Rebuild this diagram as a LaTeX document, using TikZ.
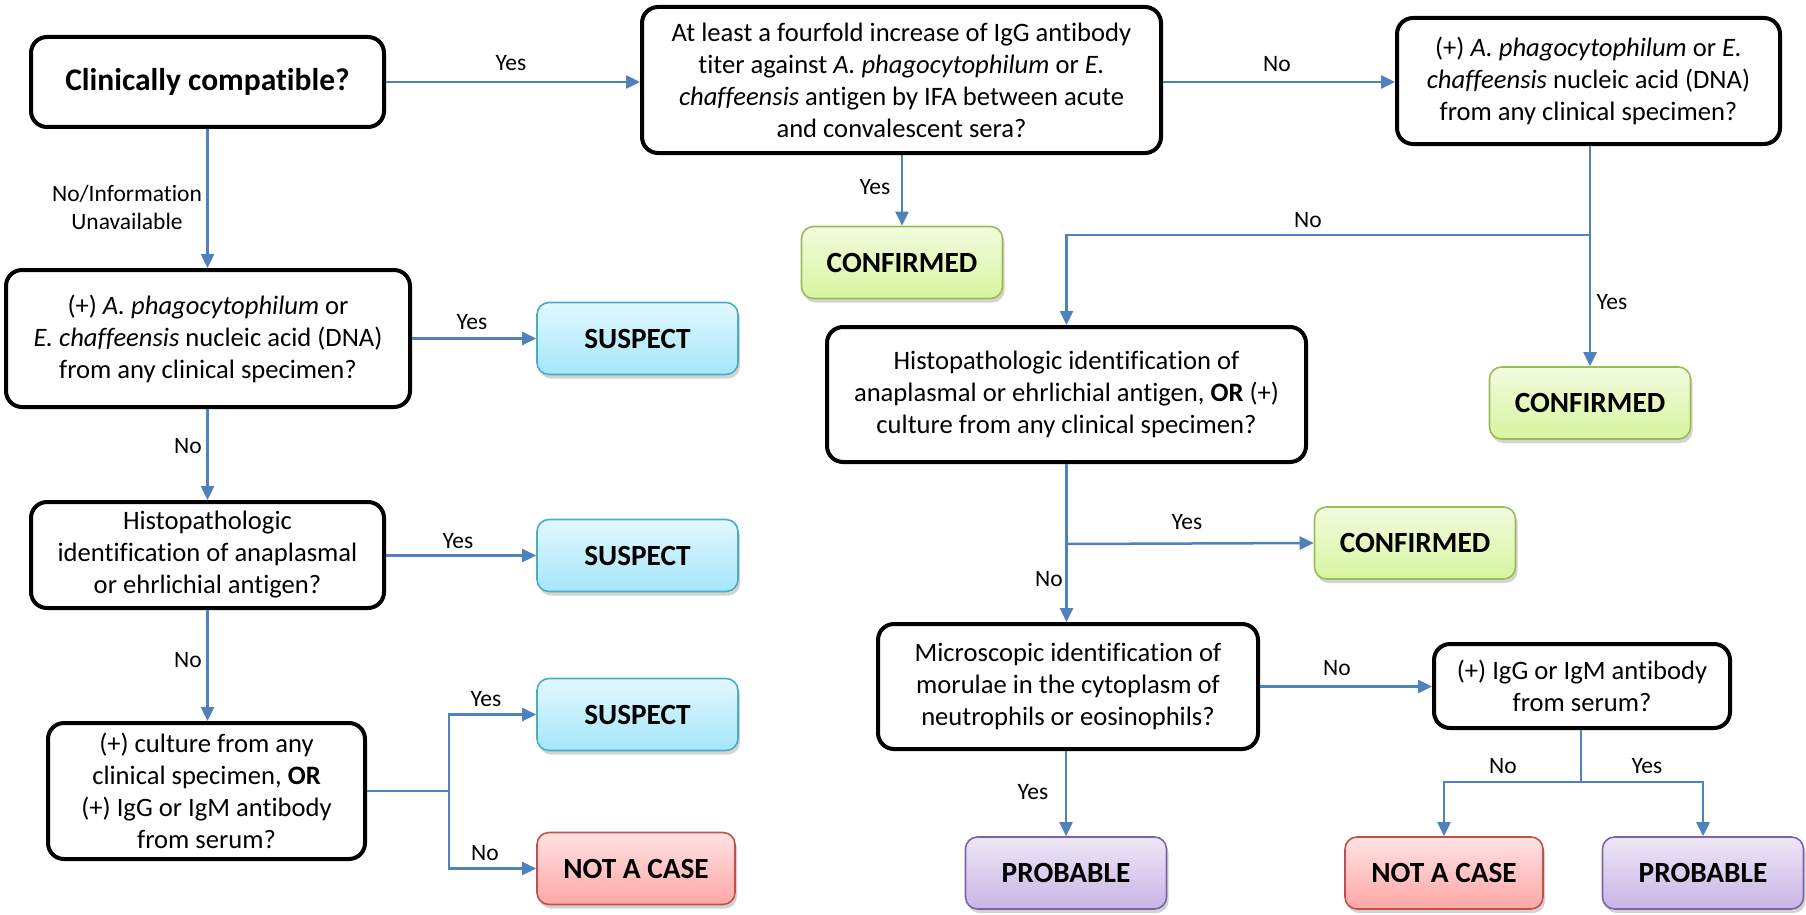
\documentclass[tikz,border=0pt]{standalone}
\usepackage{fontspec}
\setmainfont[Ligatures=NoCommon]{Carlito}
\usetikzlibrary{shadows,arrows.meta}
\definecolor{linkblue}{HTML}{4F81BD}
\definecolor{gtop}{HTML}{F2FBDF}\definecolor{gbot}{HTML}{D6F59E}\definecolor{gbrd}{HTML}{9BBB59}
\definecolor{btop}{HTML}{E2F8FF}\definecolor{bbot}{HTML}{A4E6F9}\definecolor{bbrd}{HTML}{4BACC6}
\definecolor{rtop}{HTML}{FFE3E3}\definecolor{rbot}{HTML}{FFA6A6}\definecolor{rbrd}{HTML}{C0504D}
\definecolor{ptop}{HTML}{EEE7F6}\definecolor{pbot}{HTML}{C8B4E6}\definecolor{pbrd}{HTML}{8064A2}
\begin{document}
\begin{tikzpicture}[x=1pt,y=-1pt,
  dec/.style={draw=black, line width=4pt, rounded corners=16pt, fill=white, align=center,
    font=\fontsize{26.6}{32}\selectfont, inner sep=0pt},
  term/.style={rounded corners=12pt, line width=1.6pt, minimum width=201pt, minimum height=72pt,
    font=\fontsize{29.3}{32}\selectfont\bfseries, inner sep=0pt,
    drop shadow={shadow xshift=2pt, shadow yshift=-4pt, opacity=0.35, fill=gray}},
  conf/.style={term, draw=gbrd, top color=gtop, bottom color=gbot},
  susp/.style={term, draw=bbrd, top color=btop, bottom color=bbot},
  nac/.style={term, draw=rbrd, top color=rtop, bottom color=rbot},
  prob/.style={term, draw=pbrd, top color=ptop, bottom color=pbot},
  arr/.style={draw=linkblue, line width=2.5pt, -{Triangle[length=14pt,width=13pt]}},
  ln/.style={draw=linkblue, line width=2.5pt},
  lab/.style={font=\fontsize{23.5}{28}\selectfont, inner sep=1pt, align=center}]
\useasboundingbox (0,0) rectangle (1806,915);

\node[dec, minimum width=353pt, minimum height=90pt, font=\fontsize{31.5}{32}\selectfont\bfseries] (A) at (207.5,82) {Clinically compatible?};
\node[dec, minimum width=519pt, minimum height=146pt] (B) at (901.5,80) {At least a fourfold increase of IgG antibody\\ titer against \textit{A. phagocytophilum} or \textit{E.}\\ \textit{chaffeensis} antigen by IFA between acute\\ and convalescent sera?};
\node[dec, minimum width=383pt, minimum height=126pt] (C) at (1588.5,81) {(+) \textit{A. phagocytophilum} or \textit{E.}\\ \textit{chaffeensis} nucleic acid (DNA)\\ from any clinical specimen?};
\node[conf] (conf1) at (902,262.5) {CONFIRMED};
\node[dec, minimum width=404pt, minimum height=137pt] (D) at (208,338.5) {(+) \textit{A. phagocytophilum} or\\ \textit{E. chaffeensis} nucleic acid (DNA)\\ from any clinical specimen?};
\node[susp] (susp1) at (637.5,338.5) {SUSPECT};
\node[dec, minimum width=479pt, minimum height=135pt] (E) at (1066.5,394.5) {Histopathologic identification of\\ anaplasmal or ehrlichial antigen, \textbf{OR} (+)\\ culture from any clinical specimen?};
\node[conf] (conf2) at (1590,403) {CONFIRMED};
\node[dec, minimum width=353pt, minimum height=106pt] (F) at (207.5,555) {Histopathologic\\ identification of anaplasmal\\ or ehrlichial antigen?};
\node[susp] (susp2) at (637.5,555.5) {SUSPECT};
\node[conf] (conf3) at (1415,543) {CONFIRMED};
\node[dec, minimum width=380pt, minimum height=125pt] (G) at (1068,686.5) {Microscopic identification of\\ morulae in the cytoplasm of\\ neutrophils or eosinophils?};
\node[dec, minimum width=296pt, minimum height=84pt] (H) at (1582,686) {(+) IgG or IgM antibody\\ from serum?};
\node[dec, minimum width=317pt, minimum height=136pt] (I) at (206.5,791) {(+) culture from any\\ clinical specimen, \textbf{OR}\\ (+) IgG or IgM antibody\\ from serum?};
\node[susp] (susp3) at (637.5,714.5) {SUSPECT};
\node[nac, minimum width=198pt] (nac1) at (636,868.5) {NOT A CASE};
\node[prob] (prob1) at (1066,873) {PROBABLE};
\node[nac, minimum width=198pt] (nac2) at (1444,873) {NOT A CASE};
\node[prob] (prob2) at (1703,873) {PROBABLE};

% connectors
\draw[arr] (A.east) -- (B.west |- A.east);
\draw[arr] (B.east |- A.east) -- (C.west |- A.east);
\draw[arr] (B.south -| conf1.north) -- (conf1.north);
\draw[arr] (C.south -| conf2.north) -- (conf2.north);
\coordinate (br1) at (1589,235);
\draw[arr] (br1) -| (E.north);
\draw[arr] (A.south) -- (D.north -| A.south);
\draw[arr] (D.east |- susp1.west) -- (susp1.west);
\draw[arr] (D.south -| A.south) -- (F.north);
\draw[arr] (F.east |- susp2.west) -- (susp2.west);
\draw[arr] (F.south) -- (I.north -| F.south);
\coordinate (br2) at (449,791);
\draw[ln] (I.east) -- (br2);
\draw[arr] (br2) |- (susp3.west);
\draw[arr] (br2) |- (nac1.west);
\draw[arr] (E.south) -- (G.north -| E.south);
\coordinate (br3) at (1066.5,544);
\draw[arr] (br3) -- (conf3.west);
\draw[arr] (G.east) -- (H.west |- G.east);
\draw[arr] (G.south -| prob1.north) -- (prob1.north);
\coordinate (br4) at (1581,782);
\draw[ln] (H.south -| br4) -- (br4);
\draw[arr] (br4) -| (nac2.north);
\draw[arr] (br4) -| (prob2.north);

% labels
\node[lab] (l1) at (511,63) {Yes};
\node[lab] (l2) at (1277,64) {No};
\node[lab] (l3) at (875,187) {Yes};
\node[lab] (l4) at (1308,220) {No};
\node[lab] (l5) at (1612,302) {Yes};
\node[lab] (l6) at (127,207) {No/Information\\Unavailable};
\node[lab] (l7) at (472,322) {Yes};
\node[lab] (l8) at (188,446) {No};
\node[lab] (l9) at (458,541) {Yes};
\node[lab] (l10) at (188,660) {No};
\node[lab] (l11) at (486,699) {Yes};
\node[lab] (l12) at (485,853) {No};
\node[lab] (l13) at (1187,522) {Yes};
\node[lab] (l14) at (1049,579) {No};
\node[lab] (l15) at (1337,668) {No};
\node[lab] (l16) at (1033,792) {Yes};
\node[lab] (l17) at (1503,766) {No};
\node[lab] (l18) at (1647,766) {Yes};
\end{tikzpicture}
\end{document}
